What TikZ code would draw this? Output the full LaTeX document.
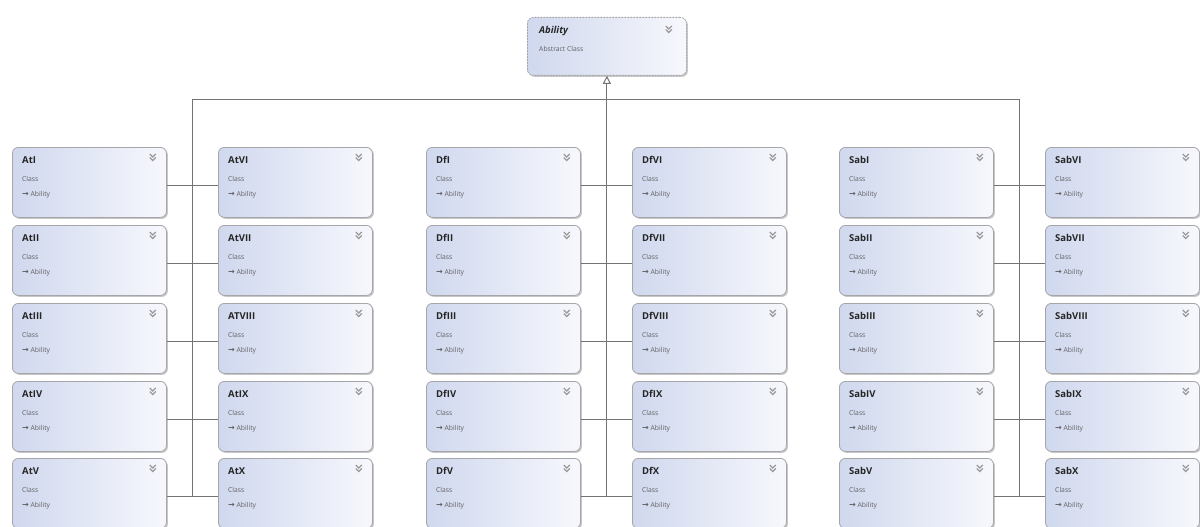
\documentclass[tikz,border=0pt]{standalone}
\usepackage{fontspec}
\setmainfont{Open Sans}
\newfontfamily\arrowfont{DejaVu Sans}
\usetikzlibrary{shadows,arrows.meta,calc}
\definecolor{boxL}{RGB}{208,216,238}
\definecolor{boxR}{RGB}{247,248,253}
\definecolor{edgec}{RGB}{165,165,170}
\definecolor{connc}{RGB}{115,115,115}
\tikzset{
 cbox/.style={draw=edgec, line width=0.8pt, rounded corners=6pt, left color=boxL, right color=boxR,
   minimum width=154pt, minimum height=70pt, anchor=north west, inner sep=0pt,
   drop shadow={shadow xshift=1.5pt, shadow yshift=-1.5pt, opacity=0.22, fill=black}},
 abox/.style={cbox, dashed, dash pattern=on 2pt off 1pt, minimum width=159pt, minimum height=58pt},
 ttl/.style={anchor=west, font=\bfseries\fontsize{9.5}{11}\selectfont, text=black!85, inner sep=0pt},
 sub/.style={anchor=west, font=\fontsize{6.8}{8}\selectfont, text=black!62, inner sep=0pt},
 chev/.style={draw=black!40, line width=1.3pt},
 connl/.style={draw=connc, line width=1pt},
}
\newcommand\classbox[4]{%
 \node[cbox] (#1) at (#2,#3) {};
 \node[ttl] (#1-t) at ($(#1.north west)+(10pt,-13pt)$) {#4};
 \node[sub] (#1-c) at ($(#1.north west)+(10pt,-32pt)$) {Class};
 \node[sub] (#1-a) at ($(#1.north west)+(10pt,-48pt)$) {{\arrowfont\bfseries\fontsize{8}{8}\selectfont →} Ability};
 \draw[chev] ($(#1.north east)+(-17pt,-7pt)$) -- ++(3pt,-3pt) -- ++(3pt,3pt);
 \draw[chev] ($(#1.north east)+(-17pt,-10.5pt)$) -- ++(3pt,-3pt) -- ++(3pt,3pt);
 \coordinate (#1-j) at ([yshift=-3pt]#1.east);
 \coordinate (#1-k) at ([yshift=-3pt]#1.west);
}
\begin{document}
\begin{tikzpicture}[x=1pt,y=-1pt]
\useasboundingbox (0,0) rectangle (1200,527);
\fill[white] (0,0) rectangle (1200,527);
% abstract class
\node[abox] (Ab) at (527,17) {};
\node[ttl, font=\bfseries\itshape\fontsize{9.5}{11}\selectfont] (Ab-t) at ($(Ab.north west)+(12pt,-14pt)$) {Ability};
\node[sub] (Ab-c) at ($(Ab.north west)+(12pt,-32pt)$) {Abstract Class};
\draw[chev] ($(Ab.north east)+(-21pt,-9pt)$) -- ++(3pt,-3pt) -- ++(3pt,3pt);
\draw[chev] ($(Ab.north east)+(-21pt,-12.5pt)$) -- ++(3pt,-3pt) -- ++(3pt,3pt);
% classes
\foreach \n/\x/\y/\t in {
 n11/12/147/AtI, n12/12/225/AtII, n13/12/303/AtIII, n14/12/381/AtIV, n15/12/458/AtV,
 n21/218/147/AtVI, n22/218/225/AtVII, n23/218/303/ATVIII, n24/218/381/AtIX, n25/218/458/AtX,
 n31/426/147/DfI, n32/426/225/DfII, n33/426/303/DfIII, n34/426/381/DfIV, n35/426/458/DfV,
 n41/632/147/DfVI, n42/632/225/DfVII, n43/632/303/DfVIII, n44/632/381/DfIX, n45/632/458/DfX,
 n51/839/147/SabI, n52/839/225/SabII, n53/839/303/SabIII, n54/839/381/SabIV, n55/839/458/SabV,
 n61/1045/147/SabVI, n62/1045/225/SabVII, n63/1045/303/SabVIII, n64/1045/381/SabIX, n65/1045/458/SabX}
 {\classbox{\n}{\x}{\y}{\t}}
% horizontal row connectors
\foreach \a/\b in {1/2,3/4,5/6}{
 \foreach \r in {1,...,5}{
  \draw[connl] (n\a\r-j) -- (n\b\r-k);
 }
}
% bus
\coordinate (busL) at (192,99);
\coordinate (busR) at (1019,99);
\coordinate (busM) at (Ab.south |- busL);
\draw[connl] (busL) -- (busR);
\draw[connl] (busL) -- (busL |- n15-j);
\draw[connl] (busR) -- (busR |- n55-j);
\draw[connl] (busM |- n35-j) -- (busM);
\draw[connl, -{Triangle[open, length=8pt, width=8pt]}] (busM) -- (Ab.south);
\end{tikzpicture}
\end{document}
